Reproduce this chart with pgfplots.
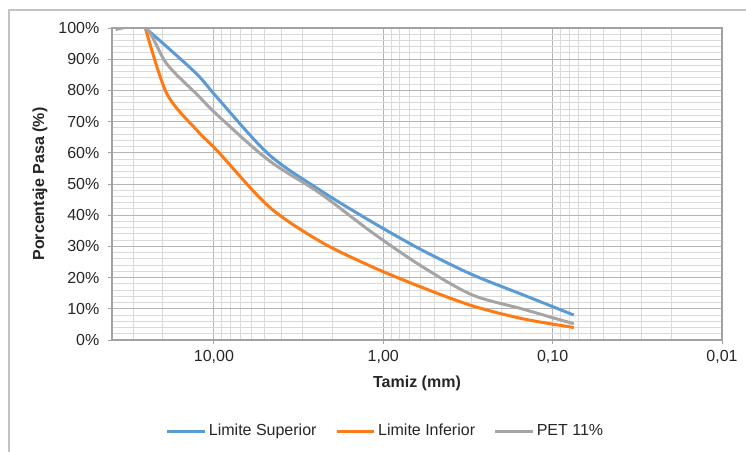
\documentclass[border=0pt]{standalone}
\usepackage{pgfplots}
\pgfplotsset{compat=1.18}
\usepackage{fontspec}
\setmainfont{Liberation Sans}
\definecolor{cblue}{HTML}{5B9BD5}
\definecolor{corange}{HTML}{FF7A12}
\definecolor{cgray}{HTML}{A5A5A5}
\definecolor{gmaj}{HTML}{B4B4B4}
\definecolor{gmin}{HTML}{DADADA}
\definecolor{txt}{HTML}{262626}
\begin{document}
\begin{tikzpicture}[x=1pt,y=1pt]
\draw[color=gmaj!80, line width=1.2pt] (6.75,-5) -- (6.75,330.75) -- (600,330.75);
\begin{axis}[
  at={(84pt,83.25pt)}, anchor=south west,
  scale only axis, width=457.5pt, height=234pt,
  xmode=log, x dir=reverse,
  xmin=0.01, xmax=40, ymin=0, ymax=100,
  xtick={0.01,0.1,1,10},
  xticklabels={{0,01},{0,10},{1,00},{10,00}},
  minor xtick={0.02,0.03,0.04,0.05,0.06,0.07,0.08,0.09,0.2,0.3,0.4,0.5,0.6,0.7,0.8,0.9,2,3,4,5,6,7,8,9,20,30,40},
  ytick={0,10,20,30,40,50,60,70,80,90,100},
  yticklabels={0\%,10\%,20\%,30\%,40\%,50\%,60\%,70\%,80\%,90\%,100\%},
  minor ytick={2,4,6,8,12,14,16,18,22,24,26,28,32,34,36,38,42,44,46,48,52,54,56,58,62,64,66,68,72,74,76,78,82,84,86,88,92,94,96,98},
  grid=both,
  major grid style={gmaj, line width=0.75pt},
  minor grid style={gmin, line width=0.75pt},
  axis line style={gmaj!90!black, line width=1.1pt},
  tick pos=left, tick align=outside,
  major tick length=3pt, minor tick length=0pt,
  tick style={gmaj!90!black, line width=0.75pt},
  tick label style={font=\fontsize{12}{14}\selectfont, text=txt},
  yticklabel style={xshift=-3pt},
  xticklabel style={yshift=-1pt},
  xlabel={Tamiz (mm)},
  xlabel style={font=\bfseries\fontsize{12}{14}\selectfont, text=txt, at={(axis description cs:0.5,-0.138)}, anchor=center},
  ylabel={Porcentaje Pasa (\%)},
  ylabel style={font=\bfseries\fontsize{12}{14}\selectfont, text=txt, at={(axis description cs:-0.118,0.5)}, anchor=center},
  legend style={at={(axis description cs:0.449,-0.292)}, anchor=center, legend columns=3, draw=none, fill=none,
    font=\fontsize{12}{14}\selectfont, text=txt, /tikz/every even column/.append style={column sep=12pt}},
  legend image code/.code={\draw[#1,line width=2.25pt] (0pt,0pt) -- (28pt,0pt);},
]
\addplot[cblue, line width=2.25pt, smooth] coordinates {
(25.4,100) (19,94) (12.5,85) (9.5,77.5) (4.75,59.5) (2.36,48) (1.18,38) (0.6,29) (0.3,21) (0.15,14.5) (0.075,8)};
\addlegendentry{Limite Superior}
\addplot[corange, line width=2.25pt, smooth] coordinates {
(25.4,100) (19,79) (12.5,67) (9.5,60.5) (4.75,42.8) (2.36,31.6) (1.18,23.6) (0.6,17) (0.3,11) (0.15,6.8) (0.075,4)};
\addlegendentry{Limite Inferior}
\addplot[cgray, line width=2.25pt, smooth] coordinates {
(38.1,99.5) (25.4,100) (19,88.5) (12.5,78.5) (9.5,72) (4.75,57.6) (2.36,47) (1.18,34.7) (0.6,23.8) (0.3,14.5) (0.15,9.9) (0.075,5.2)};
\addlegendentry{PET 11\%}
\end{axis}
\pgfresetboundingbox
\useasboundingbox (0,0) rectangle (559.5,338.25);
\end{tikzpicture}
\end{document}
